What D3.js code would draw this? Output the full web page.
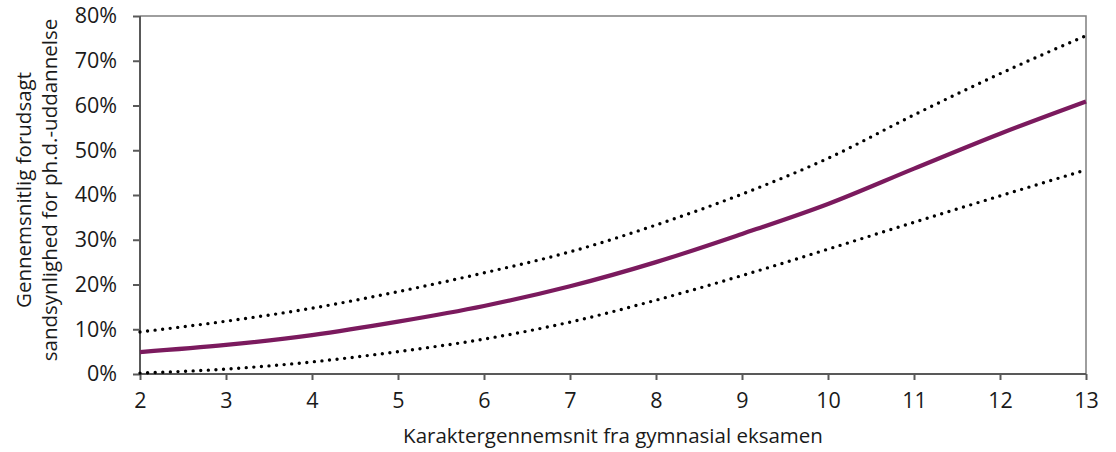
<!DOCTYPE html>
<meta charset="utf-8">
<style>
body { margin: 0; background: #fff; }
svg { display: block; font-family: "Open Sans", "Noto Sans", sans-serif; }
.axis text { font-family: "Open Sans", "Noto Sans", sans-serif; font-size: 21.5px; fill: #1a1a1a; }
.axis path, .axis line { stroke: #595959; stroke-width: 2; }
.title { font-size: 20.5px; fill: #1a1a1a; }
</style>
<svg width="1116" height="452"></svg>
<script src="https://d3js.org/d3.v7.min.js"></script>
<script>

// grade average (x) and predicted probability in percent
var grades = [2, 3, 4, 5, 6, 7, 8, 9, 10, 11, 12, 13];
var estimate = [4.9, 6.5, 8.7, 11.7, 15.2, 19.6, 25.0, 31.3, 38.0, 45.9, 53.7, 60.9];
var upperBand = [9.4, 11.8, 14.7, 18.4, 22.6, 27.3, 33.3, 40.2, 48.2, 57.9, 67.1, 75.6];
var lowerBand = [0.2, 1.1, 2.7, 5.0, 7.8, 11.6, 16.5, 22.0, 27.9, 33.9, 39.8, 45.6];
var yTicks = [0, 10, 20, 30, 40, 50, 60, 70, 80];

var svg = d3.select("svg"),
    margin = {top: 16, right: 30, bottom: 78, left: 140},
    width = svg.attr("width") - margin.left - margin.right,
    height = svg.attr("height") - margin.top - margin.bottom;

var x = d3.scaleLinear().domain([2, 13]).range([0, width]);
var y = d3.scaleLinear().domain([0, 80]).range([height, 0]);

var g = svg.append("g")
    .attr("transform", "translate(" + margin.left + "," + margin.top + ")");

// frame top and right
g.append("path")
    .attr("d", "M0,0H" + width + "V" + height)
    .attr("fill", "none")
    .attr("stroke", "#7f7f7f")
    .attr("stroke-width", 1.5);

g.append("g")
    .attr("class", "axis")
    .call(d3.axisLeft(y).tickValues(yTicks).tickSize(7).tickPadding(16)
      .tickFormat(function(d) { return d + "%"; }))
    .call(function(a) { a.select(".domain").attr("d", "M0," + height + "V0"); });

g.append("g")
    .attr("class", "axis")
    .attr("transform", "translate(0," + height + ")")
    .call(d3.axisBottom(x).tickValues(grades).tickSize(6).tickPadding(13))
    .call(function(a) { a.select(".domain").attr("d", "M0,0H" + width); });

function series(vals) {
  return grades.map(function(d, i) { return [d, vals[i]]; });
}

var line = d3.line()
    .x(function(d) { return x(d[0]); })
    .y(function(d) { return y(d[1]); })
    .curve(d3.curveMonotoneX);

[upperBand, lowerBand].forEach(function(vals) {
  g.append("path")
      .datum(series(vals))
      .attr("d", line)
      .attr("fill", "none")
      .attr("stroke", "#000")
      .attr("stroke-width", 3.4)
      .attr("stroke-linecap", "round")
      .attr("stroke-dasharray", "0 7.6");
});

g.append("path")
    .datum(series(estimate))
    .attr("d", line)
    .attr("fill", "none")
    .attr("stroke", "#7b1a5e")
    .attr("stroke-width", 4.2);

// axis titles
svg.append("text")
    .attr("class", "title")
    .attr("x", margin.left + width / 2)
    .attr("y", 443)
    .attr("text-anchor", "middle")
    .text("Karaktergennemsnit fra gymnasial eksamen");

var yt = svg.append("text")
    .attr("class", "title")
    .attr("transform", "translate(31,190) rotate(-90)")
    .attr("text-anchor", "middle");
yt.append("tspan").attr("x", 0).attr("y", 0).text("Gennemsnitlig forudsagt");
yt.append("tspan").attr("x", 0).attr("y", 26).text("sandsynlighed for ph.d.-uddannelse");

</script>
